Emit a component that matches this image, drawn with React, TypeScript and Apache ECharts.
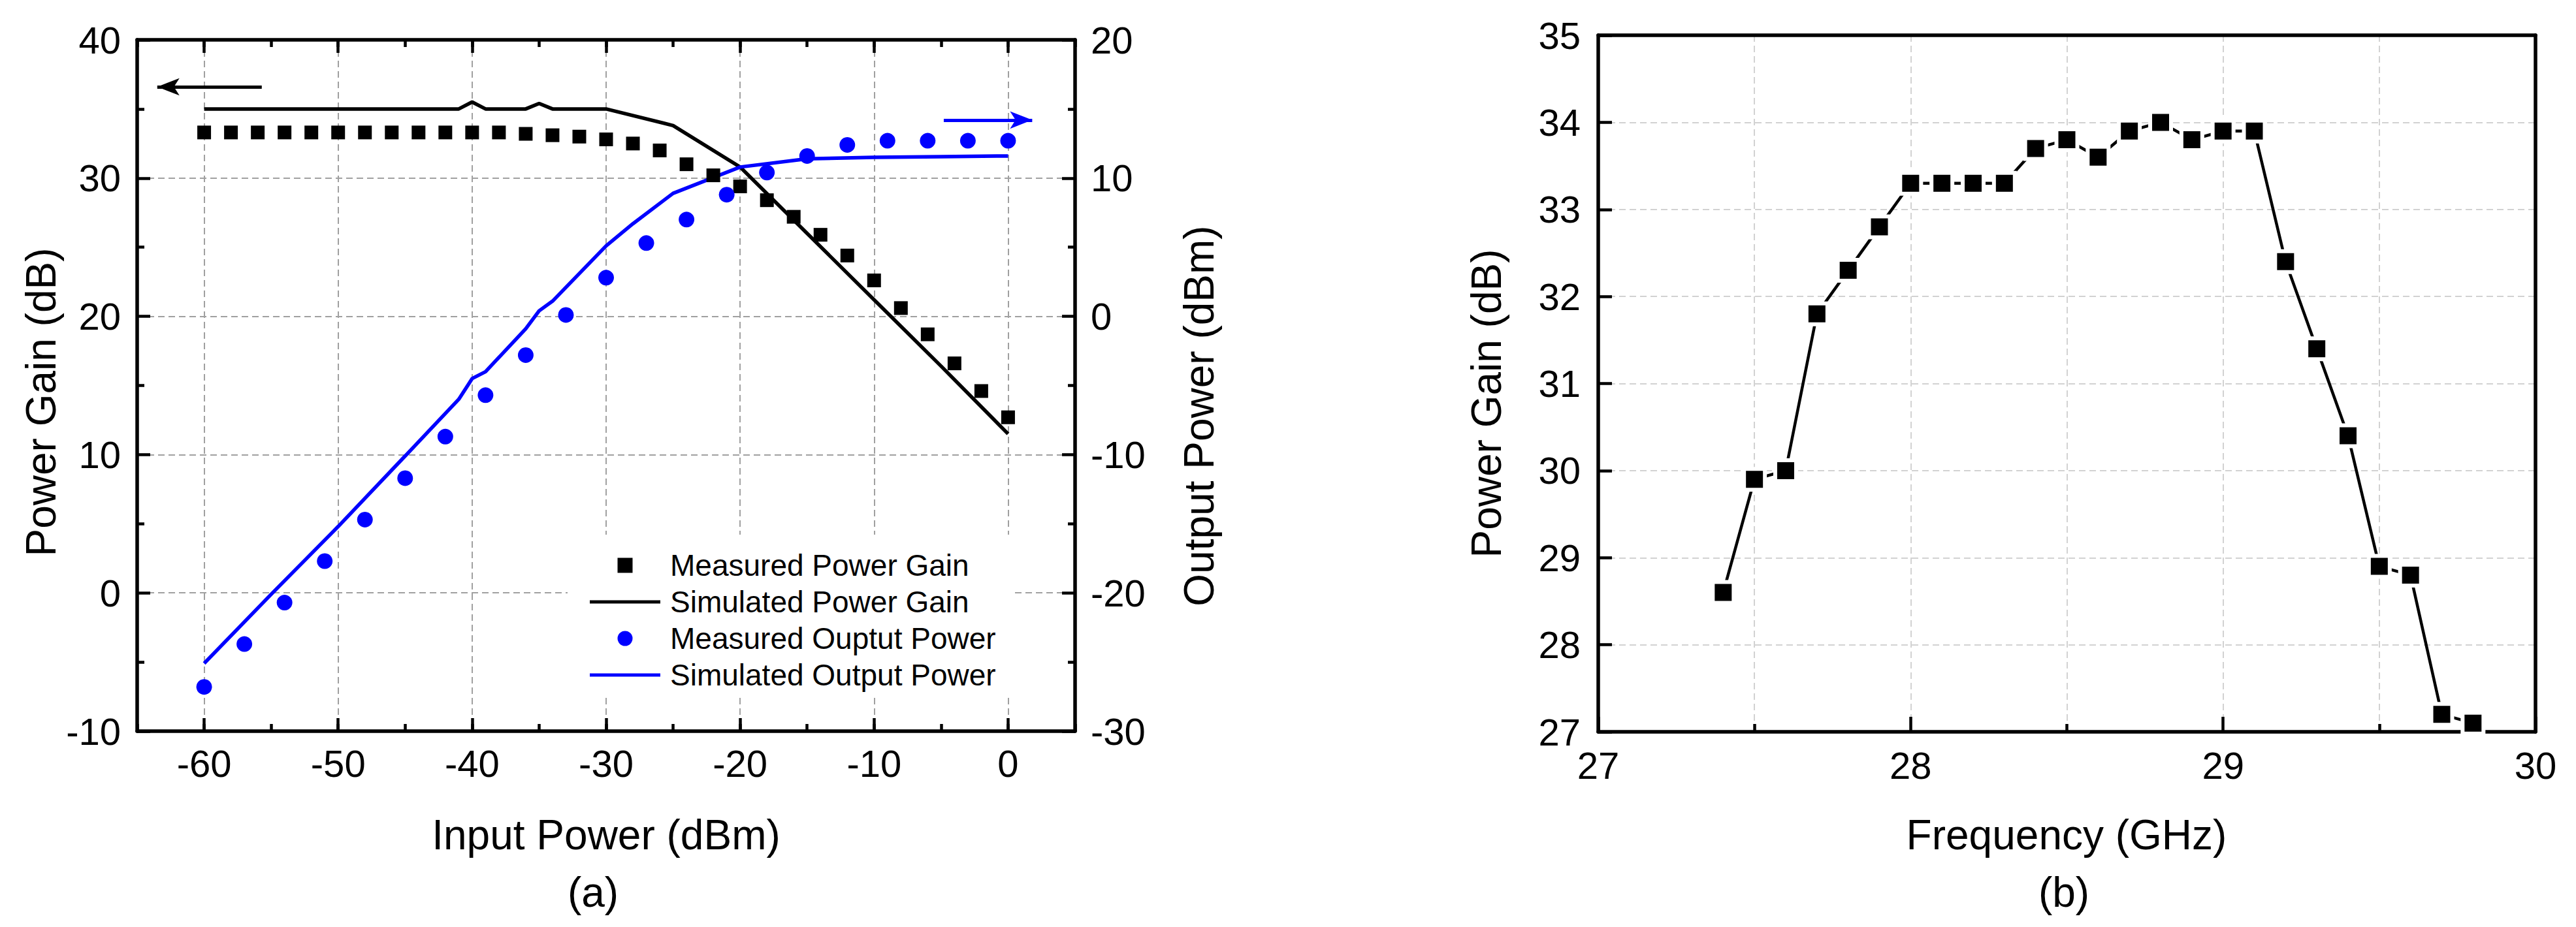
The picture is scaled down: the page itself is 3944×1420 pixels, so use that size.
import React, { useEffect, useRef } from "react";
import * as echarts from "echarts";

const FONT = '"Liberation Sans", Arial, Helvetica, sans-serif';

// ---------- Panel (a) data ----------
const gainInput = [-60, -58, -56, -54, -52, -50, -48, -46, -44, -42, -40, -38, -36, -34, -32, -30, -28, -26, -24, -22, -20, -18, -16, -14, -12, -10, -8, -6, -4, -2, 0];
const measuredGain = [33.3, 33.3, 33.3, 33.3, 33.3, 33.3, 33.3, 33.3, 33.3, 33.3, 33.3, 33.3, 33.2, 33.1, 33.0, 32.8, 32.5, 32.0, 31.0, 30.2, 29.4, 28.4, 27.2, 25.9, 24.4, 22.6, 20.6, 18.7, 16.6, 14.6, 12.7];

const simGainInput = [-60, -41, -40, -39, -36, -35, -34, -30, -25, -20, -15, -10, -5, 0];
const simGain = [35.0, 35.0, 35.5, 35.0, 35.0, 35.4, 35.0, 35.0, 33.8, 30.8, 26.0, 21.2, 16.4, 11.5];

const outInput = [-60, -57, -54, -51, -48, -45, -42, -39, -36, -33, -30, -27, -24, -21, -18, -15, -12, -9, -6, -3, 0];
const measuredOutput = [-26.8, -23.7, -20.7, -17.7, -14.7, -11.7, -8.7, -5.7, -2.8, 0.1, 2.8, 5.3, 7.0, 8.8, 10.4, 11.6, 12.4, 12.7, 12.7, 12.7, 12.7];

const simOutInput = [-60, -55, -50, -45, -41, -40, -39, -36, -35, -34, -30, -28, -25, -20, -15, -10, -5, 0];
const simOutput = [-25.1, -20.1, -15.2, -10.1, -6.0, -4.5, -4.0, -0.9, 0.4, 1.1, 5.1, 6.7, 8.9, 10.8, 11.4, 11.5, 11.55, 11.6];

const xTicksA = [-60, -50, -40, -30, -20, -10, 0];

// annotation arrows: [tail, head] in data coordinates
const gainArrow = [[-55.7, 36.6], [-63.5, 36.6]];
const outputArrow = [[-4.8, 14.2], [1.8, 14.2]];

// ---------- Panel (b) data ----------
const frequency = [27.4, 27.5, 27.6, 27.7, 27.8, 27.9, 28.0, 28.1, 28.2, 28.3, 28.4, 28.5, 28.6, 28.7, 28.8, 28.9, 29.0, 29.1, 29.2, 29.3, 29.4, 29.5, 29.6, 29.7, 29.8];
const freqGain = [28.6, 29.9, 30.0, 31.8, 32.3, 32.8, 33.3, 33.3, 33.3, 33.3, 33.7, 33.8, 33.6, 33.9, 34.0, 33.8, 33.9, 33.9, 32.4, 31.4, 30.4, 28.9, 28.8, 27.2, 27.1];

const pair = (xs: number[], ys: number[]) => xs.map((x, i) => [x, ys[i]]);

const BLUE = "#0000ff";
const axisLine = { show: true, onZero: false, lineStyle: { color: "#000", width: 5.5 } };
const labelStyle = { color: "#000", fontSize: 58, fontFamily: FONT };
const gridA = { show: true, lineStyle: { color: "#a0a0a0", width: 2, type: [10, 6] } };
const gridB = { show: true, lineStyle: { color: "#d2d2d2", width: 2, type: [10, 6] } };
const tickMajor = (len: number) => ({ show: true, inside: true, length: len, lineStyle: { color: "#000", width: 4.5 } });
const minorTick = (len: number) => ({ show: true, splitNumber: 2, length: len, lineStyle: { color: "#000", width: 4.5 } });

const arrowMark = (pts: number[][], color: string) => ({
  silent: true,
  symbol: ["none", "arrow"],
  label: { show: false },
  lineStyle: { color, width: 5, type: "solid", opacity: 1 },
  itemStyle: { color },
  emphasis: { disabled: true },
  data: [[
    { coord: pts[0], symbol: "none" },
    { coord: pts[1], symbol: "arrow", symbolSize: [20, 34], itemStyle: { color } },
  ]],
});

const titleText = (text: string, x: number, y: number, rotate = false) => ({
  type: "text",
  x,
  y,
  rotation: rotate ? Math.PI / 2 : 0,
  silent: true,
  style: { text, fontSize: 64, fontFamily: FONT, fill: "#000", align: "center", verticalAlign: "middle" },
});

export default function App() {
  const ref = useRef<HTMLDivElement>(null);

  useEffect(() => {
    if (!ref.current) return;
    const chart = echarts.init(ref.current, null, { renderer: "svg" });

    const option: any = {
      animation: false,
      backgroundColor: "#fff",
      grid: [
        { left: 210, top: 61, width: 1436, height: 1059 },
        { left: 2447, top: 54, width: 1435, height: 1067 },
      ],
      xAxis: [
        {
          gridIndex: 0, type: "value", position: "bottom", min: -65, max: 5, interval: 5,
          axisLine,
          axisTick: { ...tickMajor(20), customValues: xTicksA },
          axisLabel: { ...labelStyle, margin: 20, customValues: xTicksA },
          splitLine: gridA,
        },
        {
          gridIndex: 0, type: "value", position: "bottom", min: -65, max: 5, interval: 5,
          axisLine: { show: false, onZero: false },
          axisTick: tickMajor(11),
          axisLabel: { show: false },
          splitLine: { show: false },
        },
        {
          gridIndex: 0, type: "value", position: "top", min: -65, max: 5, interval: 5,
          axisLine,
          axisTick: { ...tickMajor(20), customValues: xTicksA },
          axisLabel: { show: false },
          splitLine: { show: false },
        },
        {
          gridIndex: 0, type: "value", position: "top", min: -65, max: 5, interval: 5,
          axisLine: { show: false, onZero: false },
          axisTick: tickMajor(11),
          axisLabel: { show: false },
          splitLine: { show: false },
        },
        {
          gridIndex: 1, type: "value", position: "bottom", min: 27, max: 30, interval: 1,
          axisLine,
          axisTick: tickMajor(23),
          minorTick: minorTick(12),
          axisLabel: { ...labelStyle, margin: 22 },
          splitLine: gridB,
          minorSplitLine: gridB,
        },
        {
          gridIndex: 1, type: "value", position: "top", min: 27, max: 30, interval: 1,
          axisLine,
          axisTick: { show: false },
          axisLabel: { show: false },
          splitLine: { show: false },
        },
      ],
      yAxis: [
        {
          gridIndex: 0, type: "value", position: "left", min: -10, max: 40, interval: 10,
          axisLine,
          axisTick: tickMajor(20),
          minorTick: minorTick(11),
          axisLabel: { ...labelStyle, margin: 25 },
          splitLine: gridA,
        },
        {
          gridIndex: 0, type: "value", position: "right", min: -30, max: 20, interval: 10,
          axisLine,
          axisTick: tickMajor(20),
          minorTick: minorTick(11),
          axisLabel: { ...labelStyle, margin: 24 },
          splitLine: { show: false },
        },
        {
          gridIndex: 1, type: "value", position: "left", min: 27, max: 35, interval: 1,
          axisLine,
          axisTick: tickMajor(21),
          axisLabel: { ...labelStyle, margin: 27 },
          splitLine: gridB,
        },
        {
          gridIndex: 1, type: "value", position: "right", min: 27, max: 35, interval: 1,
          axisLine,
          axisTick: { show: false },
          axisLabel: { show: false },
          splitLine: { show: false },
        },
      ],
      legend: {
        orient: "vertical",
        left: 869,
        top: 819,
        padding: [24, 28, 12, 34],
        backgroundColor: "#fff",
        itemWidth: 108,
        itemHeight: 23,
        itemGap: 10,
        symbolKeepAspect: true,
        selectedMode: false,
        textStyle: { fontSize: 46, fontFamily: FONT, color: "#000", lineHeight: 46, padding: [0, 0, 0, 10] },
        itemStyle: { borderWidth: 0 },
        data: [
          { name: "Measured Power Gain", icon: "path://M0,0H10V10H0Z", itemStyle: { color: "#000", borderWidth: 0, opacity: 1 } },
          { name: "Simulated Power Gain", icon: "path://M0,0H108V5H0Z", itemStyle: { color: "#000", borderWidth: 0, opacity: 1 } },
          { name: "Measured Ouptut Power", icon: "path://M10,0A10,10,0,1,1,10,20A10,10,0,1,1,10,0Z", itemStyle: { color: BLUE, borderWidth: 0, opacity: 1 } },
          { name: "Simulated Output Power", icon: "path://M0,0H108V5H0Z", itemStyle: { color: BLUE, borderWidth: 0, opacity: 1 } },
        ],
      },
      series: [
        {
          name: "Simulated Power Gain",
          type: "line",
          xAxisIndex: 0,
          yAxisIndex: 0,
          data: pair(simGainInput, simGain),
          symbol: "none",
          lineStyle: { color: "#000", width: 5.5 },
          itemStyle: { color: "#000" },
          z: 2,
          markLine: arrowMark(gainArrow, "#000"),
        },
        {
          name: "Simulated Output Power",
          type: "line",
          xAxisIndex: 0,
          yAxisIndex: 1,
          data: pair(simOutInput, simOutput),
          symbol: "none",
          lineStyle: { color: BLUE, width: 5.5 },
          itemStyle: { color: BLUE },
          z: 2,
          markLine: arrowMark(outputArrow, BLUE),
        },
        {
          name: "Measured Power Gain",
          type: "scatter",
          xAxisIndex: 0,
          yAxisIndex: 0,
          data: pair(gainInput, measuredGain),
          symbol: "rect",
          symbolSize: 21,
          itemStyle: { color: "#000", opacity: 1 },
          z: 3,
        },
        {
          name: "Measured Ouptut Power",
          type: "scatter",
          xAxisIndex: 0,
          yAxisIndex: 1,
          data: pair(outInput, measuredOutput),
          symbol: "circle",
          symbolSize: [24, 24],
          itemStyle: { color: BLUE, opacity: 1 },
          z: 3,
        },
        {
          name: "Power Gain vs Frequency",
          type: "line",
          xAxisIndex: 4,
          yAxisIndex: 2,
          data: pair(frequency, freqGain),
          symbol: "rect",
          symbolSize: 32,
          lineStyle: { color: "#000", width: 4.5 },
          itemStyle: { color: "#000", borderColor: "#fff", borderWidth: 6, opacity: 1 },
          z: 3,
        },
      ],
      graphic: [
        titleText("Input Power (dBm)", 928, 1279),
        titleText("(a)", 908, 1367),
        titleText("Power Gain (dB)", 63, 616, true),
        titleText("Output Power (dBm)", 1836, 637, true),
        titleText("Frequency (GHz)", 3164, 1279),
        titleText("(b)", 3160, 1367),
        titleText("Power Gain (dB)", 2276, 618, true),
      ],
    };

    chart.setOption(option);
    return () => chart.dispose();
  }, []);

  return (
    <div
      ref={ref}
      style={{ position: "absolute", left: 0, top: 0, width: 3944, height: 1420, background: "#fff" }}
    />
  );
}
